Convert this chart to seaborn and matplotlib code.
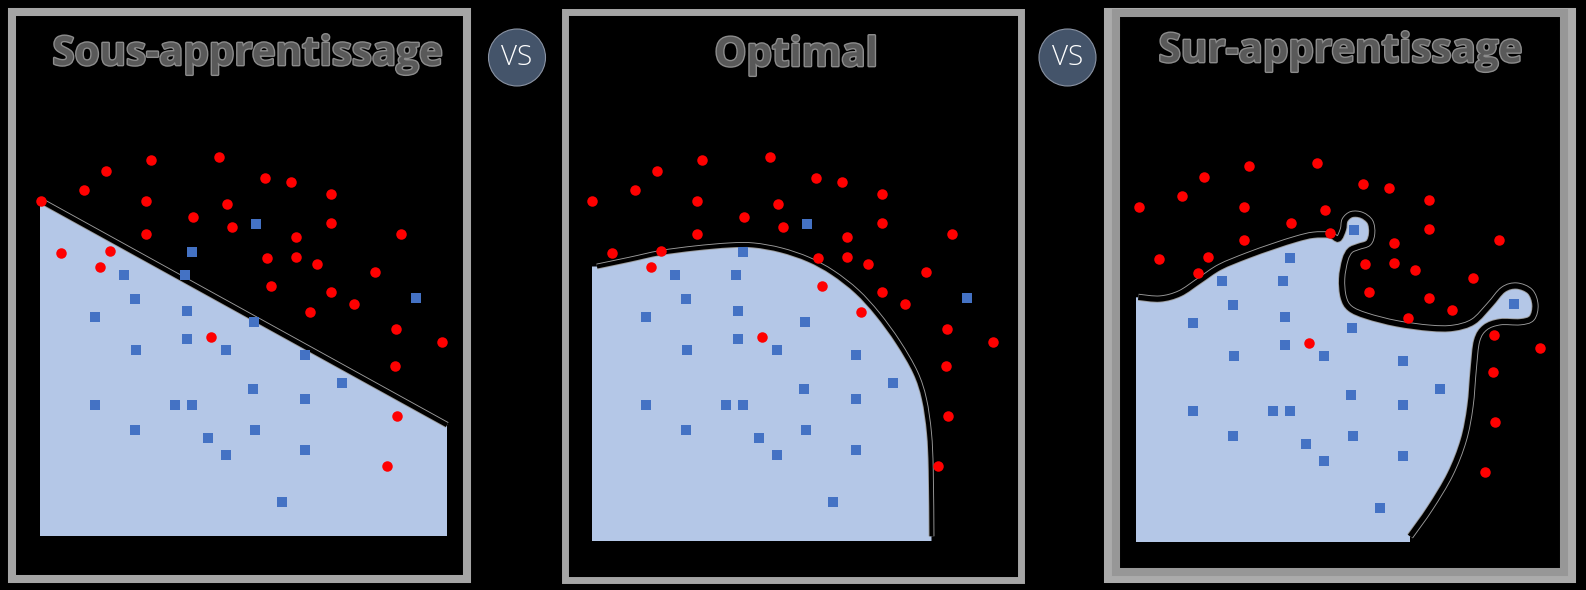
import numpy as np
import matplotlib.pyplot as plt
import seaborn as sns
from matplotlib.path import Path
from matplotlib.patches import PathPatch, Rectangle, Circle
import matplotlib.patheffects as pe

sns.set_style("white")
plt.rcParams['font.family'] = ['Open Sans', 'DejaVu Sans']

titles = ["Sous-apprentissage", "Optimal", "Sur-apprentissage"]

# same points in every panel (pixel coords of the first panel)
red_x = [41, 84, 106, 151, 219, 146, 193, 227, 265, 291, 331, 146, 232, 331, 296, 401, 61,
         110, 100, 267, 296, 317, 375, 271, 331, 354, 310, 396, 442, 211, 395, 397, 387]
red_y = [201, 190, 171, 160, 157, 201, 217, 204, 178, 182, 194, 234, 227, 223, 237, 234, 253,
         251, 267, 258, 257, 264, 272, 286, 292, 304, 312, 329, 342, 337, 366, 416, 466]
blue_x = [256, 192, 124, 185, 135, 95, 187, 254, 416, 187, 136, 226, 305, 342, 253, 305, 95,
          175, 192, 135, 255, 208, 226, 305, 282]
blue_y = [224, 252, 275, 275, 299, 317, 311, 322, 298, 339, 350, 350, 355, 383, 389, 399, 405,
          405, 405, 430, 430, 438, 455, 450, 502]

# decision boundaries
under_x = [41, 447]
under_y = [201, 425]
optimal_x = [597, 629.5, 660.5, 695, 729.4, 753.5, 781, 808.6, 832.7, 856.8, 877.5, 898,
             915.3, 924, 929, 930.8, 931.5]
optimal_y = [266.5, 259.7, 253, 248.4, 245.4, 245.4, 250.3, 259.7, 272.9, 291.7, 314.3, 342.5,
             372.6, 399, 432.8, 470.5, 536.3]
over_x = [1138.3, 1160, 1180, 1200, 1220, 1246.7, 1273.3, 1296.7, 1313.3, 1330, 1338.3, 1343.3,
          1345, 1351.7, 1361.7, 1370, 1371.7, 1368.3, 1358.3, 1350, 1345, 1341.7, 1343.3, 1350,
          1366.7, 1396.7, 1430, 1453.3, 1473.3, 1490, 1503.3, 1516.7, 1530, 1535, 1531.7, 1520,
          1500, 1485, 1476.7, 1473.3, 1470, 1463.3, 1450, 1430, 1410]
over_y = [297.3, 299, 293.6, 280.4, 267.2, 256, 246.5, 239, 235.2, 235.2, 239, 229.6, 220.2,
          214.5, 215.3, 222, 233.3, 242.8, 246.5, 250.3, 259.7, 278.5, 297.3, 308.6, 316.1,
          323.7, 328.2, 328.2, 321.8, 304.9, 289.8, 286, 291.7, 304.9, 318, 321.8, 321.8, 327.4,
          340.6, 368.8, 406.5, 440.3, 474.2, 508, 536.3]

offsets = [(0, 0), (550.5, 0), (1097.5, 5.5)]

fill_c = '#b4c7e7'
blue_c = '#4472c4'
red_c = '#ff0000'
border_c = '#a5a5a5'


def smooth(xs, ys):
    # catmull-rom through the traced points, as bezier segments
    p = np.column_stack([xs, ys]).astype(float)
    p = np.vstack([p[0], p, p[-1]])
    verts = [tuple(p[1])]
    codes = [Path.MOVETO]
    for i in range(1, len(p) - 2):
        c1 = p[i] + (p[i + 1] - p[i - 1]) / 6
        c2 = p[i + 1] - (p[i + 2] - p[i]) / 6
        verts += [tuple(c1), tuple(c2), tuple(p[i + 1])]
        codes += [Path.CURVE4] * 3
    return verts, codes


def halo(lw):
    return [pe.Stroke(linewidth=lw + 1.3, foreground='#9c9c9c'), pe.Normal()]


fig = plt.figure(figsize=(15.86, 5.90), dpi=100)
fig.patch.set_facecolor('black')
ax = fig.add_axes([0, 0, 1, 1])
ax.set_facecolor('black')
ax.set_xlim(0, 1586)
ax.set_ylim(590, 0)
ax.axis('off')

# panel frames
ax.add_patch(Rectangle((12, 12), 455, 567, fill=False, ec=border_c, lw=5.8, zorder=1))
ax.add_patch(Rectangle((564.5, 12), 456, 568, fill=False, ec=border_c, lw=5.0, zorder=1))
ax.add_patch(Rectangle((1108, 12), 464, 567, fill=False, ec='#ababab', lw=5.8, zorder=1))
ax.add_patch(Rectangle((1116, 13), 448, 559, fill=False, ec='#979797', lw=5.8, zorder=1))

# panel 1: straight line
ax.add_patch(PathPatch(Path([(under_x[0], under_y[0]), (under_x[1], under_y[1]), (447, 536),
                             (40, 536), (40, under_y[0]), (0, 0)],
                            [Path.MOVETO, Path.LINETO, Path.LINETO, Path.LINETO, Path.LINETO,
                             Path.CLOSEPOLY]), fc=fill_c, ec='none', zorder=2))
ax.plot(under_x, under_y, color='black', lw=3.3, solid_capstyle='butt', zorder=3,
        path_effects=halo(3.3))

# panel 2 and 3: curves
for xs, ys, bottom, left, lw in [(optimal_x, optimal_y, 541, 592, 2.9),
                                 (over_x, over_y, 542, 1136, 3.8)]:
    v, c = smooth(xs, ys)
    fv = v + [(xs[-1], bottom), (left, bottom), (left, ys[0]), (0, 0)]
    fc = c + [Path.LINETO, Path.LINETO, Path.LINETO, Path.CLOSEPOLY]
    ax.add_patch(PathPatch(Path(fv, fc), fc=fill_c, ec='none', zorder=2))
    ax.add_patch(PathPatch(Path(v, c), fill=False, ec='black', lw=lw, zorder=3,
                           path_effects=halo(lw)))

# points
for dx, dy in offsets:
    sns.scatterplot(x=np.array(red_x) + dx, y=np.array(red_y) + dy, color=red_c, marker='o',
                    s=57, linewidth=0, ax=ax, zorder=4)
    sns.scatterplot(x=np.array(blue_x) + dx, y=np.array(blue_y) + dy, color=blue_c, marker='s',
                    s=62, linewidth=0, ax=ax, zorder=4)

# titles
stroke = [pe.withStroke(linewidth=2, foreground='#8c8c8c')]
for t, x, y in zip(titles, [247, 796, 1340], [65, 66, 62]):
    ax.text(x, y, t, ha='center', va='baseline', fontsize=29, fontweight='bold',
            color='#595959', path_effects=stroke, zorder=5)

# "VS" badges
for cx in [517, 1067.5]:
    ax.add_patch(Circle((cx, 57.5), 28.5, fc='#44546a', ec='#8a93a3', lw=0.8, zorder=5))
    ax.text(cx, 58, "VS", ha='center', va='center', fontsize=20, fontweight='light',
            color='white', zorder=6)

ax.set_xlim(0, 1586)
ax.set_ylim(590, 0)
plt.savefig('out.png', dpi=100, facecolor='black')
